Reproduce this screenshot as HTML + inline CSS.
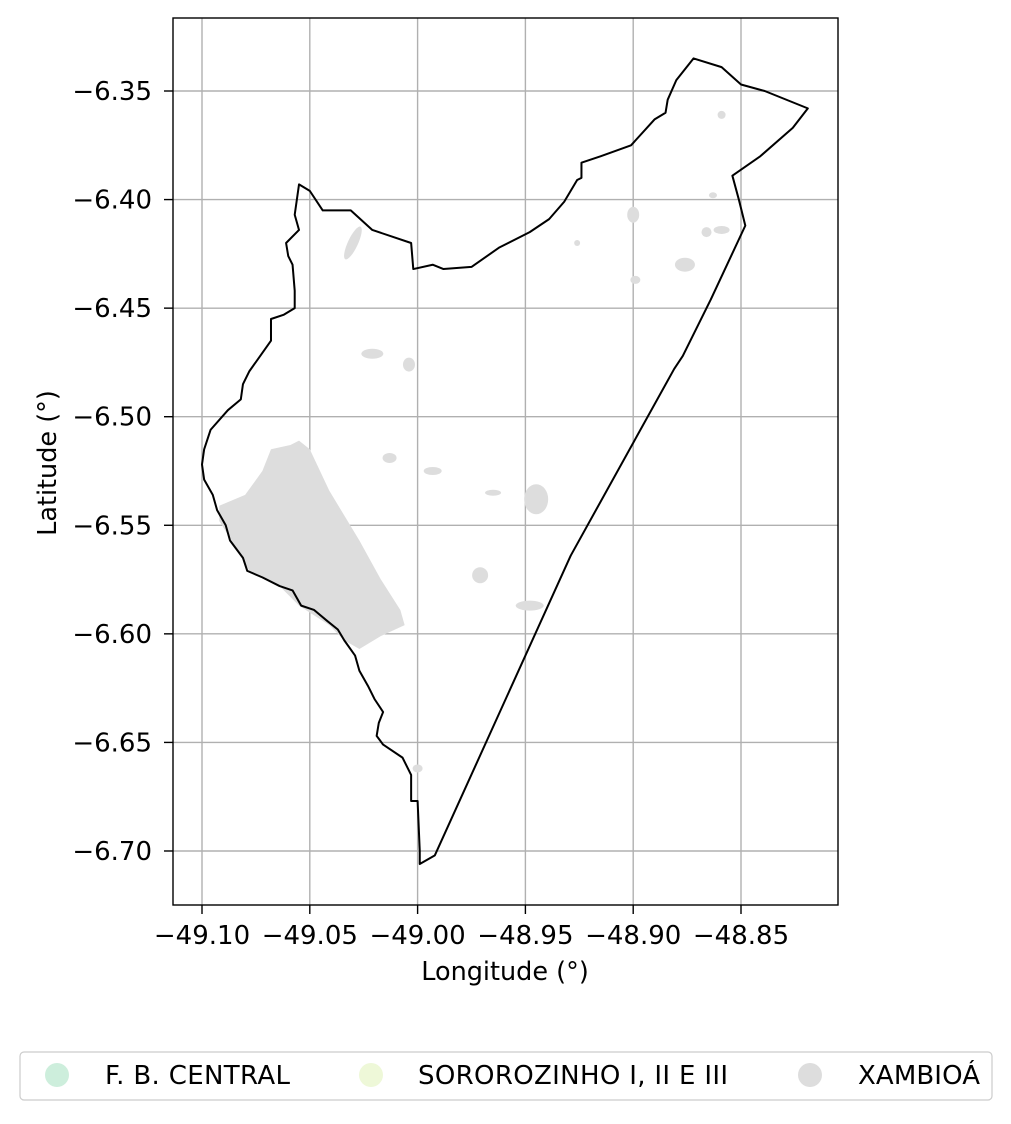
<!DOCTYPE html>
<html><head><meta charset="utf-8"><style>
body{margin:0;background:#fff;}
svg text{font-family:"DejaVu Sans","Liberation Sans",sans-serif;fill:#000;}
</style></head><body>
<svg id="chart" width="1011" height="1119" xmlns="http://www.w3.org/2000/svg">
<g id="grid"></g>
<g id="patches"></g>
<g id="outline"></g>
<rect x="173" y="18" width="665" height="887" fill="none" stroke="#000" stroke-width="1.4"/>
<g id="ticks"></g>
<text x="505" y="980" font-size="25.5" text-anchor="middle">Longitude (°)</text>
<text transform="translate(56,463) rotate(-90)" font-size="25.5" text-anchor="middle">Latitude (°)</text>
<g>
<rect x="20" y="1052" width="972" height="48" rx="4" fill="#fff" stroke="#ccc" stroke-width="1.2"/>
<circle cx="57" cy="1075" r="12" fill="#cdeedc"/>
<text x="105" y="1084" font-size="26" textLength="185">F. B. CENTRAL</text>
<circle cx="371" cy="1075" r="12" fill="#eef8d8"/>
<text x="418" y="1084" font-size="26" textLength="310">SOROROZINHO I, II E III</text>
<circle cx="810" cy="1075" r="12" fill="#dddddd"/>
<text x="858" y="1084" font-size="26" textLength="122">XAMBIOÁ</text>
</g>
</svg>
<script>
const xTicks=[-49.10,-49.05,-49.00,-48.95,-48.90,-48.85];
const xTickLabels=["−49.10","−49.05","−49.00","−48.95","−48.90","−48.85"];
const yTicks=[-6.35,-6.40,-6.45,-6.50,-6.55,-6.60,-6.65,-6.70];
const yTickLabels=["−6.35","−6.40","−6.45","−6.50","−6.55","−6.60","−6.65","−6.70"];
const outlineLon=[-48.872,-48.859,-48.850,-48.839,-48.819,-48.826,-48.841,-48.854,-48.851,-48.848,-48.864,-48.877,-48.881,-48.929,-48.992,-48.999,-48.999,-49.000,-49.003,-49.003,-49.007,-49.016,-49.019,-49.018,-49.016,-49.020,-49.023,-49.027,-49.029,-49.034,-49.037,-49.042,-49.048,-49.054,-49.058,-49.064,-49.072,-49.079,-49.081,-49.087,-49.089,-49.093,-49.095,-49.099,-49.100,-49.099,-49.096,-49.088,-49.082,-49.081,-49.078,-49.073,-49.068,-49.068,-49.062,-49.057,-49.057,-49.058,-49.060,-49.061,-49.055,-49.057,-49.055,-49.050,-49.044,-49.031,-49.021,-49.003,-49.002,-48.993,-48.988,-48.975,-48.962,-48.948,-48.939,-48.932,-48.926,-48.924,-48.924,-48.915,-48.901,-48.890,-48.885,-48.884,-48.880];
const outlineLat=[-6.335,-6.339,-6.347,-6.350,-6.358,-6.367,-6.380,-6.389,-6.400,-6.412,-6.446,-6.472,-6.478,-6.564,-6.702,-6.706,-6.700,-6.677,-6.677,-6.665,-6.657,-6.651,-6.647,-6.641,-6.636,-6.630,-6.624,-6.617,-6.610,-6.603,-6.598,-6.594,-6.589,-6.587,-6.580,-6.578,-6.574,-6.571,-6.565,-6.557,-6.550,-6.543,-6.536,-6.529,-6.522,-6.515,-6.506,-6.497,-6.492,-6.485,-6.479,-6.472,-6.465,-6.455,-6.453,-6.450,-6.442,-6.430,-6.426,-6.420,-6.414,-6.407,-6.393,-6.396,-6.405,-6.405,-6.414,-6.420,-6.432,-6.430,-6.432,-6.431,-6.422,-6.415,-6.409,-6.401,-6.391,-6.390,-6.383,-6.380,-6.375,-6.363,-6.360,-6.354,-6.345];
const bigPatchLon=[-49.092,-49.080,-49.072,-49.068,-49.059,-49.055,-49.050,-49.041,-49.027,-49.017,-49.008,-49.006,-49.017,-49.027,-49.034,-49.041,-49.055,-49.064,-49.078,-49.085,-49.092];
const bigPatchLat=[-6.541,-6.536,-6.525,-6.515,-6.513,-6.511,-6.515,-6.534,-6.557,-6.575,-6.589,-6.596,-6.601,-6.607,-6.603,-6.596,-6.587,-6.578,-6.571,-6.559,-6.548];
const smallLon=[-49.030,-49.021,-49.004,-49.013,-48.993,-48.965,-48.945,-48.971,-48.948,-48.900,-48.876,-48.866,-48.859,-48.863,-48.859,-48.926,-48.899,-49.000];
const smallLat=[-6.420,-6.471,-6.476,-6.519,-6.525,-6.535,-6.538,-6.573,-6.587,-6.407,-6.430,-6.415,-6.414,-6.398,-6.361,-6.420,-6.437,-6.662];
const smallRx=[5,11,6,7,9,8,12,8,14,6,10,5,8,4,4,3,5,5];
const smallRy=[18,5,7,5,4,3,15,8,5,8,7,5,4,3,4,3,4,4];
const X=v=>202+(v+49.10)/0.05*107.8;
const Y=v=>91+(-6.35-v)/0.05*108.57;
const NS="http://www.w3.org/2000/svg";
function mk(tag,attrs,parent){const e=document.createElementNS(NS,tag);for(const k in attrs)e.setAttribute(k,attrs[k]);parent.appendChild(e);return e;}
const grid=document.getElementById('grid'),ticks=document.getElementById('ticks');
xTicks.forEach((v,i)=>{
 const g=mk('line',{x1:X(v),x2:X(v),y1:18,y2:905,stroke:'#b0b0b0','stroke-width':1.4},grid);
 
 
 const t=mk('line',{x1:X(v),x2:X(v),y1:905,y2:914,stroke:'#000','stroke-width':1.4},ticks);
 
 
 const l=mk('text',{x:X(v),y:944,'font-size':26,'text-anchor':'middle'},ticks);l.textContent=xTickLabels[i];
 
 
});
yTicks.forEach((v,i)=>{
 const g=mk('line',{x1:173,x2:838,y1:Y(v),y2:Y(v),stroke:'#b0b0b0','stroke-width':1.4},grid);
 
 
 const t=mk('line',{x1:164,x2:173,y1:Y(v),y2:Y(v),stroke:'#000','stroke-width':1.4},ticks);
 
 
 const l=mk('text',{x:152,y:Y(v)+9,'font-size':26,'text-anchor':'end'},ticks);l.textContent=yTickLabels[i];
 
 
});
const patches=document.getElementById('patches');
const bp=mk('polygon',{points:bigPatchLon.map((v,i)=>X(v)+','+Y(bigPatchLat[i])).join(' '),fill:'#dddddd'},patches);


smallLon.forEach((v,i)=>{
 const e=mk('ellipse',{cx:X(v),cy:Y(smallLat[i]),rx:smallRx[i],ry:smallRy[i],fill:'#dddddd'},patches);
 if(i===0)e.setAttribute('transform','rotate(25 '+X(v)+' '+Y(smallLat[i])+')');
 
 
});
const ol=mk('polygon',{points:outlineLon.map((v,i)=>X(v)+','+Y(outlineLat[i])).join(' '),fill:'none',stroke:'#000','stroke-width':2,'stroke-linejoin':'round'},document.getElementById('outline'));


</script>
</body></html>
